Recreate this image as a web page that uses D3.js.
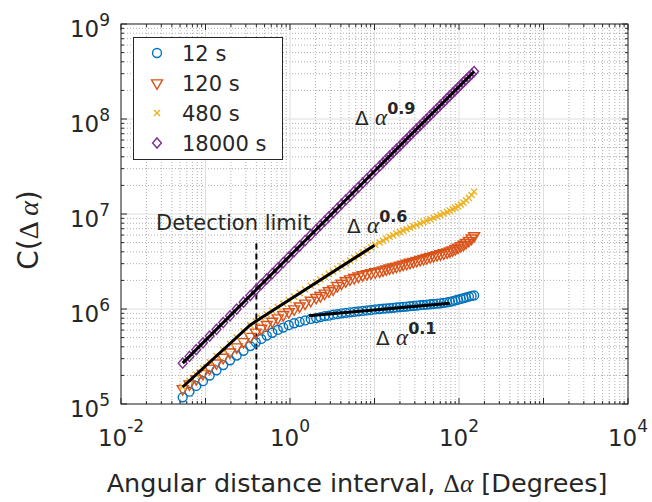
<!DOCTYPE html>
<html>
<head>
<meta charset="utf-8">
<script src="https://cdn.jsdelivr.net/npm/d3@7"></script>
<style>
  body { margin: 0; background: #fff; }
  text { font-family: "DejaVu Sans", sans-serif; fill: #262626; }
</style>
</head>
<body>
<div id="chart"></div>
<script>
// angular distance interval (degrees), shared by all series
var angles = [0.0537, 0.0646, 0.0776, 0.0933, 0.112, 0.135, 0.162, 0.195, 0.234, 0.282,
  0.339, 0.394, 0.457, 0.531, 0.617, 0.716, 0.832, 0.966, 1.12, 1.30,
  1.51, 1.76, 2.04, 2.29, 2.57, 2.88, 3.24, 3.63, 4.07, 4.57,
  5.13, 5.75, 6.46, 7.24, 8.13, 9.12, 10.2, 11.5, 12.6, 13.8,
  15.1, 16.6, 18.2, 20.0, 21.9, 24.0, 26.3, 28.8, 31.6, 34.7,
  38.0, 41.7, 45.7, 50.1, 55.0, 60.3, 66.1, 72.4, 78.0, 84.0,
  90.4, 97.3, 105, 113, 121, 131, 141, 151];

var c12 = [1.175e5, 1.349e5, 1.549e5, 1.738e5, 1.995e5, 2.265e5, 2.570e5, 2.884e5, 3.236e5, 3.631e5,
  4.074e5, 4.467e5, 4.842e5, 5.248e5, 5.623e5, 6.026e5, 6.383e5, 6.761e5, 7.079e5, 7.328e5,
  7.586e5, 7.852e5, 8.035e5, 8.222e5, 8.414e5, 8.511e5, 8.710e5, 8.810e5, 9.016e5, 9.120e5,
  9.226e5, 9.333e5, 9.441e5, 9.550e5, 9.661e5, 9.772e5, 9.886e5, 1.000e6, 1.007e6, 1.014e6,
  1.023e6, 1.030e6, 1.038e6, 1.047e6, 1.054e6, 1.062e6, 1.072e6, 1.079e6, 1.086e6, 1.096e6,
  1.104e6, 1.112e6, 1.122e6, 1.130e6, 1.140e6, 1.148e6, 1.161e6, 1.175e6, 1.189e6, 1.208e6,
  1.230e6, 1.253e6, 1.276e6, 1.300e6, 1.324e6, 1.349e6, 1.371e6, 1.390e6];

var c120 = [1.445e5, 1.622e5, 1.841e5, 2.089e5, 2.371e5, 2.692e5, 3.090e5, 3.508e5, 3.981e5, 4.519e5,
  5.129e5, 5.689e5, 6.237e5, 6.839e5, 7.413e5, 8.035e5, 8.710e5, 9.333e5, 1.000e6, 1.072e6,
  1.148e6, 1.230e6, 1.318e6, 1.380e6, 1.462e6, 1.549e6, 1.622e6, 1.758e6, 1.862e6, 1.972e6,
  2.065e6, 2.138e6, 2.213e6, 2.291e6, 2.344e6, 2.399e6, 2.455e6, 2.512e6, 2.570e6, 2.630e6,
  2.692e6, 2.754e6, 2.818e6, 2.884e6, 2.951e6, 3.020e6, 3.090e6, 3.162e6, 3.236e6, 3.311e6,
  3.388e6, 3.467e6, 3.548e6, 3.631e6, 3.715e6, 3.802e6, 3.890e6, 3.981e6, 4.074e6, 4.169e6,
  4.315e6, 4.467e6, 4.624e6, 4.786e6, 5.012e6, 5.248e6, 5.559e6, 5.888e6];

var c480 = [1.514e5, 1.758e5, 2.042e5, 2.371e5, 2.754e5, 3.199e5, 3.715e5, 4.315e5, 5.012e5, 5.821e5,
  6.761e5, 7.413e5, 8.035e5, 8.810e5, 9.550e5, 1.047e6, 1.135e6, 1.245e6, 1.349e6, 1.479e6,
  1.603e6, 1.758e6, 1.905e6, 2.042e6, 2.188e6, 2.344e6, 2.483e6, 2.661e6, 2.818e6, 3.020e6,
  3.236e6, 3.467e6, 3.673e6, 3.936e6, 4.169e6, 4.467e6, 4.732e6, 5.012e6, 5.248e6, 5.495e6,
  5.754e6, 5.957e6, 6.237e6, 6.457e6, 6.683e6, 6.918e6, 7.161e6, 7.413e6, 7.674e6, 7.943e6,
  8.222e6, 8.511e6, 8.810e6, 9.120e6, 9.441e6, 9.772e6, 1.012e7, 1.047e7, 1.084e7, 1.122e7,
  1.161e7, 1.202e7, 1.259e7, 1.318e7, 1.396e7, 1.479e7, 1.585e7, 1.718e7];

var c18000 = [2.692e5, 3.170e5, 3.733e5, 4.401e5, 5.188e5, 6.109e5, 7.194e5, 8.472e5, 9.980e5, 1.178e6,
  1.387e6, 1.585e6, 1.811e6, 2.070e6, 2.362e6, 2.698e6, 3.083e6, 3.524e6, 4.027e6, 4.603e6,
  5.254e6, 5.998e6, 6.855e6, 7.600e6, 8.414e6, 9.330e6, 1.033e7, 1.146e7, 1.268e7, 1.406e7,
  1.556e7, 1.726e7, 1.910e7, 2.118e7, 2.344e7, 2.600e7, 2.877e7, 3.191e7, 3.459e7, 3.758e7,
  4.083e7, 4.426e7, 4.808e7, 5.212e7, 5.662e7, 6.152e7, 6.668e7, 7.244e7, 7.852e7, 8.531e7,
  9.268e7, 1.005e8, 1.091e8, 1.183e8, 1.285e8, 1.396e8, 1.514e8, 1.644e8, 1.754e8, 1.875e8,
  2.000e8, 2.138e8, 2.280e8, 2.438e8, 2.600e8, 2.780e8, 2.965e8, 3.162e8];

var seriesNames = ["12 s", "120 s", "480 s", "18000 s"];
var seriesColors = ["#0072BD", "#D95319", "#EDB120", "#7E2F8E"];

// power-law guide lines (black)
var fit09 = [[0.0537, 2.69e5], [151, 3.16e8]];
var fit06 = [[0.0537, 1.51e5], [0.336, 6.76e5], [10.0, 4.68e6]];
var fit01 = [[1.68, 8.5e5], [78, 1.15e6]];
var detectionLimit = 0.4;
var detectionTop = 4.9e6;

var xTicks = [1e-2, 1e0, 1e2, 1e4];
var xTickExp = ["-2", "0", "2", "4"];
var yTicks = [1e5, 1e6, 1e7, 1e8, 1e9];
var yTickExp = ["5", "6", "7", "8", "9"];

!(function(){
  "use strict";

  var W = 652, H = 502;
  var m = {left: 121, top: 24, right: 24, bottom: 98};
  var w = W - m.left - m.right, h = H - m.top - m.bottom;

  var svg = d3.select("#chart").append("svg").attr("width", W).attr("height", H);
  var g = svg.append("g").attr("transform", "translate(" + m.left + "," + m.top + ")");

  var x = d3.scaleLog().domain([1e-2, 1e4]).range([0, w]);
  var y = d3.scaleLog().domain([1e5, 1e9]).range([h, 0]);

  // minor ticks 2..9 in each decade
  function minors(lo, hi) {
    var out = [];
    for (var e = lo; e < hi; e++) {
      for (var k = 2; k <= 9; k++) out.push(k * Math.pow(10, e));
    }
    return out;
  }
  var xMinor = minors(-2, 4), yMinor = minors(5, 9);
  var xMajor = d3.range(-2, 5).map(function(e) { return Math.pow(10, e); });
  var yMajor = d3.range(5, 10).map(function(e) { return Math.pow(10, e); });

  var grid = g.append("g");
  grid.selectAll(".xm").data(xMinor).enter().append("line")
    .attr("x1", x).attr("x2", x).attr("y1", 0).attr("y2", h)
    .attr("stroke", "#b0b0b0").attr("stroke-width", 1).attr("stroke-dasharray", "1,2");
  grid.selectAll(".ym").data(yMinor).enter().append("line")
    .attr("y1", y).attr("y2", y).attr("x1", 0).attr("x2", w)
    .attr("stroke", "#b0b0b0").attr("stroke-width", 1).attr("stroke-dasharray", "1,2");
  grid.selectAll(".xM").data(xMajor).enter().append("line")
    .attr("x1", x).attr("x2", x).attr("y1", 0).attr("y2", h)
    .attr("stroke", "#dedede").attr("stroke-width", 1);
  grid.selectAll(".yM").data(yMajor).enter().append("line")
    .attr("y1", y).attr("y2", y).attr("x1", 0).attr("x2", w)
    .attr("stroke", "#dedede").attr("stroke-width", 1);

  // detection limit
  g.append("line")
    .attr("x1", x(detectionLimit)).attr("x2", x(detectionLimit))
    .attr("y1", y(detectionTop)).attr("y2", h)
    .attr("stroke", "#000").attr("stroke-width", 2).attr("stroke-dasharray", "6,4");

  // markers
  function diamond(s) {
    return "M0," + (-s * 1.15) + "L" + s + ",0L0," + (s * 1.15) + "L" + (-s) + ",0Z";
  }
  var shapes = [
    d3.symbol().type(d3.symbolCircle).size(62)(),
    d3.symbol().type(d3.symbolTriangle).size(52)(),
    d3.symbol().type(d3.symbolTimes).size(26)(),
    diamond(4.4)
  ];
  var rot = [0, 180, 0, 0];
  var allSeries = [c12, c120, c480, c18000];

  var marks = g.append("g");
  allSeries.forEach(function(vals, i) {
    marks.append("g").selectAll("path").data(vals).enter().append("path")
      .attr("d", shapes[i])
      .attr("transform", function(d, j) {
        return "translate(" + x(angles[j]) + "," + y(d) + ") rotate(" + rot[i] + ")";
      })
      .attr("fill", "none")
      .attr("stroke", seriesColors[i])
      .attr("stroke-width", 1.4);
  });

  // fit lines
  var line = d3.line().x(function(d) { return x(d[0]); }).y(function(d) { return y(d[1]); });
  [fit09, fit06, fit01].forEach(function(f) {
    g.append("path").attr("d", line(f))
      .attr("fill", "none").attr("stroke", "#000").attr("stroke-width", 3);
  });

  // axes box and ticks (inward, all sides)
  var ax = g.append("g").attr("stroke", "#262626").attr("stroke-width", 1);
  ax.append("rect").attr("x", 0).attr("y", 0).attr("width", w).attr("height", h).attr("fill", "none");
  function xt(vals, len) {
    ax.append("g").selectAll("line").data(vals).enter().append("line")
      .attr("x1", x).attr("x2", x).attr("y1", h).attr("y2", h - len);
    ax.append("g").selectAll("line").data(vals).enter().append("line")
      .attr("x1", x).attr("x2", x).attr("y1", 0).attr("y2", len);
  }
  function yt(vals, len) {
    ax.append("g").selectAll("line").data(vals).enter().append("line")
      .attr("y1", y).attr("y2", y).attr("x1", 0).attr("x2", len);
    ax.append("g").selectAll("line").data(vals).enter().append("line")
      .attr("y1", y).attr("y2", y).attr("x1", w).attr("x2", w - len);
  }
  xt(xMajor, 6); xt(xMinor, 3);
  yt(yMajor, 6); yt(yMinor, 3);

  // tick labels
  g.append("g").selectAll("text").data(xTicks).enter().append("text")
    .attr("x", x).attr("y", h + 42)
    .attr("text-anchor", "middle")
    .style("font-size", "23px")
    .each(function(d, i) {
      var t = d3.select(this);
      t.append("tspan").text("10");
      t.append("tspan").attr("dy", -14).style("font-size", "17px").text(xTickExp[i]);
    });
  g.append("g").selectAll("text").data(yTicks).enter().append("text")
    .attr("x", -11).attr("y", function(d) { return y(d) + 13; })
    .attr("text-anchor", "end")
    .style("font-size", "23px")
    .each(function(d, i) {
      var t = d3.select(this);
      t.append("tspan").text("10");
      t.append("tspan").attr("dy", -11).style("font-size", "17px").text(yTickExp[i]);
    });

  // axis titles
  var xl = svg.append("text").attr("x", 357).attr("y", 492).attr("text-anchor", "middle")
    .style("font-size", "25.5px");
  xl.append("tspan").text("Angular distance interval, ");
  xl.append("tspan").style("font-family", "'Liberation Serif', serif").text("\u0394");
  xl.append("tspan").style("font-family", "'Liberation Serif', serif").style("font-style", "italic").text("\u03b1");
  xl.append("tspan").text(" [Degrees]");

  var yl = svg.append("text").attr("transform", "translate(38,230) rotate(-90)")
    .attr("text-anchor", "middle").style("font-size", "28px");
  yl.append("tspan").text("C(");
  yl.append("tspan").style("font-family", "'Liberation Serif', serif").text("\u0394 ");
  yl.append("tspan").style("font-family", "'Liberation Serif', serif").style("font-style", "italic").text("\u03b1");
  yl.append("tspan").text(")");

  // annotations
  svg.append("text").attr("x", 156).attr("y", 230).style("font-size", "21px").text("Detection limit");

  function powerLabel(px, py, expo) {
    var t = svg.append("text").attr("x", px).attr("y", py).style("font-size", "20px");
    t.append("tspan").text("\u0394 ");
    t.append("tspan").style("font-family", "'Liberation Serif', serif").style("font-style", "italic")
      .style("font-size", "23px").text("\u03b1");
    t.append("tspan").attr("dy", -11).style("font-size", "16px").style("font-weight", "bold").text(expo);
  }
  powerLabel(355, 125, "0.9");
  powerLabel(347, 233, "0.6");
  powerLabel(376, 345, "0.1");

  // legend
  var lg = svg.append("g");
  lg.append("rect").attr("x", 133.5).attr("y", 37.5).attr("width", 149).attr("height", 122)
    .attr("fill", "#fff").attr("stroke", "#262626").attr("stroke-width", 1);
  var rowsY = [53, 83, 113, 143];
  seriesNames.forEach(function(name, i) {
    lg.append("path").attr("d", shapes[i])
      .attr("transform", "translate(157," + rowsY[i] + ") rotate(" + rot[i] + ")")
      .attr("fill", "none").attr("stroke", seriesColors[i]).attr("stroke-width", 1.4);
    lg.append("text").attr("x", 182).attr("y", rowsY[i] + 8)
      .style("font-size", "21px").text(name);
  });
}());
</script>
</body>
</html>
